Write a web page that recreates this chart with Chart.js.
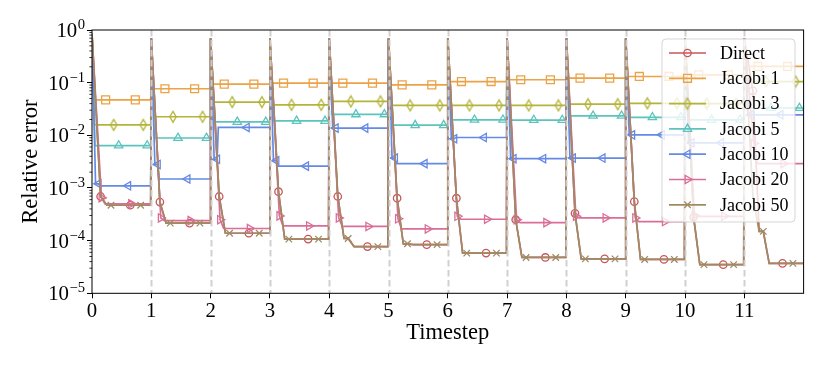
<!DOCTYPE html>
<html>
<head>
<meta charset="utf-8">
<script src="https://cdn.jsdelivr.net/npm/chart.js@4.4.1/dist/chart.umd.min.js"></script>
<style>
  html, body { margin: 0; padding: 0; background: #fff; }
  #wrap { width: 830px; height: 369px; }
</style>
</head>
<body>
<div id="wrap"><canvas id="errChart" width="830" height="369"></canvas></div>
<script>
var timesteps = [0, 1, 2, 3, 4, 5, 6, 7, 8, 9, 10, 11];
var yTicks = [1e-5, 1e-4, 1e-3, 1e-2, 1e-1, 1];
var seriesNames = ['Direct', 'Jacobi 1', 'Jacobi 3', 'Jacobi 5', 'Jacobi 10', 'Jacobi 20', 'Jacobi 50'];

// error at the very start of each timestep (top of the spikes)
var spikeErr = [0.85, 0.7, 0.7, 0.7, 0.7, 0.7, 0.7, 0.7, 0.7, 0.7, 0.7, 0.7];

// read per timestep: value shortly after the spike and the level it settles to
var directEarly   = [6.9e-4, 5.4e-4, 6.9e-4, 8.5e-4, 6.9e-4, 6.4e-4, 6.4e-4, 2.5e-4, 3.3e-4, 5.5e-4, 2.8e-4, 7.0e-2];
var directMid     = [4.7e-4, 2.15e-4, 1.38e-4, 1.07e-4, 1.1e-4, 8.7e-5, 5.8e-5, 4.8e-5, 4.5e-5, 4.4e-5, 3.5e-5, 1.5e-4];
var directLevel   = [4.7e-4, 2.15e-4, 1.38e-4, 1.07e-4, 7.7e-5, 8.4e-5, 5.8e-5, 4.8e-5, 4.5e-5, 4.4e-5, 3.5e-5, 3.7e-5];
var jacobi1Level  = [0.047, 0.0766, 0.094, 0.098, 0.098, 0.091, 0.105, 0.1135, 0.122, 0.131, 0.141, 0.203];
var jacobi3Level  = [0.0158, 0.0225, 0.0428, 0.038, 0.044, 0.037, 0.037, 0.037, 0.039, 0.0406, 0.040, 0.105];
var jacobi5Level  = [0.0064, 0.0089, 0.018, 0.0188, 0.025, 0.0156, 0.0197, 0.0195, 0.0235, 0.022, 0.0196, 0.033];
var jacobi10Early = [1.2e-3, 2.8e-3, 3.5e-3, 3.3e-3, 1.37e-2, 3.7e-3, 8.6e-3, 3.6e-3, 3.7e-3, 1.02e-2, 7.2e-3, 2.45e-2];
var jacobi10Level = [1.1e-3, 1.48e-3, 1.41e-2, 2.6e-3, 1.37e-2, 2.9e-3, 9.1e-3, 3.6e-3, 3.7e-3, 1.02e-2, 7.2e-3, 2.45e-2];
var jacobi20Early = [6.5e-4, 2.7e-4, 2.5e-4, 2.95e-4, 2.7e-4, 2.6e-4, 2.9e-4, 2.5e-4, 2.9e-4, 2.7e-4, 3.0e-4, 7.0e-3];
var jacobi20Level = [5.0e-4, 2.4e-4, 1.7e-4, 1.9e-4, 1.86e-4, 1.67e-4, 2.55e-4, 2.2e-4, 2.7e-4, 2.3e-4, 2.9e-4, 2.9e-3];
var jacobi50Early = [6.9e-4, 5.4e-4, 6.9e-4, 8.5e-4, 6.9e-4, 6.4e-4, 6.4e-4, 2.5e-4, 3.3e-4, 5.5e-4, 2.8e-4, 7.0e-4];
var jacobi50Mid   = [4.7e-4, 2.15e-4, 1.38e-4, 1.07e-4, 1.1e-4, 8.7e-5, 5.8e-5, 4.8e-5, 4.5e-5, 4.4e-5, 3.5e-5, 1.5e-4];
var jacobi50Level = [4.7e-4, 2.15e-4, 1.38e-4, 1.07e-4, 7.7e-5, 8.4e-5, 5.8e-5, 4.8e-5, 4.5e-5, 4.4e-5, 3.5e-5, 3.7e-5];

var fam = '"Liberation Serif", "Times New Roman", "DejaVu Serif", serif';

function thinDiamond(color) {
    var c = document.createElement('canvas');
    c.width = 10; c.height = 14;
    var g = c.getContext('2d');
    g.strokeStyle = color;
    g.lineWidth = 1.3;
    g.beginPath();
    g.moveTo(5, 1.6); g.lineTo(8.2, 7); g.lineTo(5, 12.4); g.lineTo(1.8, 7);
    g.closePath();
    g.stroke();
    return c;
}

// offsets inside a timestep where the readings sit, plus marker places
var specs = [
    {label: seriesNames[0], color: 'rgb(200,86,88)', marker: 'circle', r: 3.7,
     early: directEarly, earlyAt: [0.145], mid: directMid, midAt: [0.25, 0.32], level: directLevel, levelAt: 0.42, marks: [0.145, 0.645]},
    {label: seriesNames[1], color: 'rgb(236,162,70)', marker: 'rect', r: 5.6,
     level: jacobi1Level, levelAt: 0.04, marks: [0.23, 0.73]},
    {label: seriesNames[2], color: 'rgb(180,180,58)', marker: 'diamond', r: 5,
     level: jacobi3Level, levelAt: 0.04, marks: [0.365, 0.865]},
    {label: seriesNames[3], color: 'rgb(92,196,188)', marker: 'triangle', r: 4.8,
     level: jacobi5Level, levelAt: 0.05, marks: [0.45, 0.93]},
    {label: seriesNames[4], color: 'rgb(100,138,230)', marker: 'triangle', rot: -90, r: 4.8,
     early: jacobi10Early, earlyAt: [0.06, 0.11], level: jacobi10Level, levelAt: 0.13, marks: [0.11, 0.61]},
    {label: seriesNames[5], color: 'rgb(218,110,150)', marker: 'triangle', rot: 90, r: 4.8,
     early: jacobi20Early, earlyAt: [0.16], level: jacobi20Level, levelAt: 0.22, marks: [0.16, 0.66]},
    {label: seriesNames[6], color: 'rgb(160,138,102)', marker: 'crossRot', r: 4.6,
     early: jacobi50Early, earlyAt: [0.145], mid: jacobi50Mid, midAt: [0.25, 0.32], level: jacobi50Level, levelAt: 0.42, marks: [0.32, 0.82]}
];

function buildPoints(s) {
    var pts = [];
    timesteps.forEach(function (t, k) {
        var offs = [0, s.levelAt, 0.99].concat(s.earlyAt || [], s.midAt || [], s.marks);
        offs = offs.filter(function (o, i) { return offs.indexOf(o) === i; }).sort(function (a, b) { return a - b; });
        offs.forEach(function (o) {
            var y = s.level[k];
            if (o === 0) y = spikeErr[k];
            else if (s.earlyAt && s.earlyAt.indexOf(o) >= 0) y = s.early[k];
            else if (s.midAt && s.midAt.indexOf(o) >= 0) y = s.mid[k];
            pts.push({x: t + o, y: y, mark: s.marks.indexOf(o) >= 0});
        });
    });
    return pts;
}

var datasets = specs.map(function (s, i) {
    var style = s.marker === 'diamond' ? thinDiamond(s.color) : s.marker;
    s.style = style;
    return {
        label: s.label,
        data: buildPoints(s),
        borderColor: s.color,
        borderWidth: 1.7,
        pointStyle: style,
        pointRotation: s.rot || 0,
        pointBorderColor: s.color,
        pointBackgroundColor: 'rgba(0,0,0,0)',
        pointBorderWidth: 1.3,
        pointRadius: function (c) { return c.raw && c.raw.mark ? s.r : 0; },
        tension: 0,
        fill: false,
        order: specs.length - 1 - i
    };
});

var overlay = {
    id: 'overlay',
    afterDatasetsDraw: function (chart) {
        var ctx = chart.ctx, a = chart.chartArea;
        var xs = chart.scales.x, ys = chart.scales.y;
        ctx.save();
        // dashed timestep separators
        ctx.strokeStyle = 'rgba(205,205,205,0.95)';
        ctx.lineWidth = 2;
        ctx.setLineDash([6.5, 3.5]);
        timesteps.slice(1).forEach(function (t) {
            var px = Math.round(xs.getPixelForValue(t)) + 0.5;
            ctx.beginPath(); ctx.moveTo(px, a.top); ctx.lineTo(px, a.bottom); ctx.stroke();
        });
        ctx.setLineDash([]);
        // minor ticks on the log axis
        ctx.strokeStyle = '#000';
        ctx.lineWidth = 0.8;
        yTicks.slice(0, -1).forEach(function (d) {
            for (var m = 2; m <= 9; m++) {
                var py = ys.getPixelForValue(m * d);
                ctx.beginPath(); ctx.moveTo(a.left - 2.6, py); ctx.lineTo(a.left, py); ctx.stroke();
            }
        });
        // frame
        ctx.lineWidth = 1;
        ctx.strokeRect(a.left, a.top, a.right - a.left, a.bottom - a.top);
        // y tick labels as 10 with a raised exponent
        ctx.fillStyle = '#000';
        ctx.textBaseline = 'alphabetic';
        ctx.textAlign = 'right';
        yTicks.forEach(function (v) {
            var py = ys.getPixelForValue(v);
            var e = Math.round(Math.log10(v));
            var expText = e < 0 ? '\u2212' + Math.abs(e) : String(e);
            var right = a.left - 7;
            ctx.font = '14.6px ' + fam;
            var ew = ctx.measureText(expText).width;
            ctx.fillText(expText, right, py - 1);
            ctx.font = '20.8px ' + fam;
            ctx.fillText('10', right - ew - 0.5, py + 7);
        });
        ctx.restore();
    },
    afterDraw: function (chart) {
        var ctx = chart.ctx, a = chart.chartArea;
        var w = 133, h = 183;
        var x0 = a.right - 8.6 - w, y0 = a.top + 9, rr = 4;
        ctx.save();
        ctx.beginPath();
        ctx.moveTo(x0 + rr, y0);
        ctx.arcTo(x0 + w, y0, x0 + w, y0 + h, rr);
        ctx.arcTo(x0 + w, y0 + h, x0, y0 + h, rr);
        ctx.arcTo(x0, y0 + h, x0, y0, rr);
        ctx.arcTo(x0, y0, x0 + w, y0, rr);
        ctx.closePath();
        ctx.fillStyle = 'rgba(255,255,255,0.8)';
        ctx.fill();
        ctx.strokeStyle = 'rgba(204,204,204,0.8)';
        ctx.lineWidth = 1;
        ctx.stroke();
        specs.forEach(function (s, i) {
            var y = y0 + 14 + i * 25.3;
            ctx.strokeStyle = s.color;
            ctx.lineWidth = 1.7;
            ctx.beginPath(); ctx.moveTo(x0 + 7, y); ctx.lineTo(x0 + 44, y); ctx.stroke();
            ctx.fillStyle = 'rgba(0,0,0,0)';
            ctx.lineWidth = 1.3;
            Chart.helpers.drawPoint(ctx, {pointStyle: s.style, rotation: s.rot || 0, radius: s.r, borderWidth: 1.3}, x0 + 25.5, y);
            ctx.fillStyle = '#000';
            ctx.font = '18px ' + fam;
            ctx.textBaseline = 'middle';
            ctx.textAlign = 'left';
            ctx.fillText(s.label, x0 + 58, y + 1);
        });
        ctx.restore();
    }
};

var errChart = new Chart(document.getElementById('errChart').getContext('2d'), {
    type: 'line',
    data: {datasets: datasets},
    plugins: [overlay],
    options: {
        responsive: false,
        animation: false,
        events: [],
        devicePixelRatio: 1,
        layout: {padding: {left: 0, top: 30, right: 26.4, bottom: 0}},
        plugins: {legend: {display: false}, tooltip: {enabled: false}},
        scales: {
            x: {
                type: 'linear',
                min: 0,
                max: 12,
                afterBuildTicks: function (s) { s.ticks = timesteps.map(function (v) { return {value: v}; }); },
                afterFit: function (s) { s.height = 75.7; },
                border: {display: false},
                grid: {drawOnChartArea: false, drawTicks: true, tickLength: 5, tickColor: '#000', tickWidth: 1},
                ticks: {color: '#000', font: {family: fam, size: 20.8}, padding: 1, maxRotation: 0, autoSkip: false,
                        callback: function (v) { return String(v); }},
                title: {display: true, text: 'Timestep', color: '#000', font: {family: fam, size: 22.5},
                        padding: {top: 0, bottom: 22.5}}
            },
            y: {
                type: 'logarithmic',
                min: 1e-5,
                max: 1,
                afterBuildTicks: function (s) { s.ticks = yTicks.map(function (v) { return {value: v}; }); },
                afterFit: function (s) { s.width = 92; },
                border: {display: false},
                grid: {drawOnChartArea: false, drawTicks: true, tickLength: 5, tickColor: '#000', tickWidth: 1},
                ticks: {display: false},
                title: {display: true, text: 'Relative error', color: '#000', font: {family: fam, size: 22.5},
                        padding: {top: 17.4, bottom: 0}}
            }
        }
    }
});
</script>
</body>
</html>
